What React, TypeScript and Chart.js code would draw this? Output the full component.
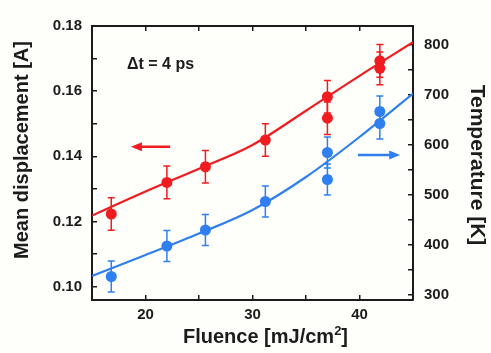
import React, { useEffect, useRef } from "react";
import { Chart, registerables } from "chart.js";

Chart.register(...registerables);

// ---- data ----
const fluence = [16.8, 22.0, 25.6, 31.2, 37.0, 37.0, 41.9, 41.9];
const displacement = [0.1223, 0.132, 0.1368, 0.145, 0.1583, 0.1517, 0.1693, 0.167];
const displacementErr = [0.005, 0.005, 0.005, 0.005, 0.005, 0.005, 0.005, 0.005];
const temperature = [337, 398, 430, 487, 531, 585, 667, 643];
const temperatureErr = [31, 31, 31, 31, 31, 31, 31, 31];

const fitFluence = [15, 20, 25, 30, 35, 40, 45];
const displacementFit = [0.1218, 0.1292, 0.1362, 0.1435, 0.154, 0.1647, 0.175];
const temperatureFit = [338, 380, 423, 470, 536, 616, 703];

const xTickValues = [20, 25, 30, 35, 40];
const xTickLabels = [20, 30, 40];
const yLeftTickValues = [0.1, 0.11, 0.12, 0.13, 0.14, 0.15, 0.16, 0.17, 0.18];
const yLeftTickLabels = [0.1, 0.12, 0.14, 0.16, 0.18];
const yRightTickValues = [300, 350, 400, 450, 500, 550, 600, 650, 700, 750, 800];
const yRightTickLabels = [300, 400, 500, 600, 700, 800];

const xTitle = "Fluence [mJ/cm";
const xTitleSup = "2";
const xTitleEnd = "]";
const yLeftTitle = "Mean displacement [A]";
const yRightTitle = "Temperature [K]";
const annotationText = "\u0394t = 4 ps";

const RED = "#f01c1f";
const BLUE = "#2f7ff0";
const INK = "#1c1c1c";
const FONT = '"Liberation Sans", Arial, sans-serif';

const near = (a: number, list: number[]) => list.some((t) => Math.abs(t - a) < 1e-6);

const errorBarPlugin = {
  id: "errorBars",
  beforeDatasetsDraw(chart: any) {
    const { ctx } = chart;
    chart.data.datasets.forEach((ds: any, i: number) => {
      if (!ds.errors) return;
      const meta = chart.getDatasetMeta(i);
      const yScale = chart.scales[ds.yAxisID];
      ctx.save();
      ctx.strokeStyle = ds.backgroundColor;
      ctx.lineWidth = 1.5;
      meta.data.forEach((pt: any, j: number) => {
        const v = ds.data[j].y;
        const e = ds.errors[j];
        const yTop = yScale.getPixelForValue(v + e);
        const yBot = yScale.getPixelForValue(v - e);
        const x = pt.x;
        ctx.beginPath();
        ctx.moveTo(x, yTop);
        ctx.lineTo(x, yBot);
        ctx.moveTo(x - 3.5, yTop);
        ctx.lineTo(x + 3.5, yTop);
        ctx.moveTo(x - 3.5, yBot);
        ctx.lineTo(x + 3.5, yBot);
        ctx.stroke();
      });
      ctx.restore();
    });
  },
};

function arrow(ctx: CanvasRenderingContext2D, x1: number, x2: number, y: number, color: string) {
  const dir = Math.sign(x2 - x1);
  ctx.save();
  ctx.strokeStyle = color;
  ctx.fillStyle = color;
  ctx.lineWidth = 2.5;
  ctx.beginPath();
  ctx.moveTo(x1, y);
  ctx.lineTo(x2 - dir * 8, y);
  ctx.stroke();
  ctx.beginPath();
  ctx.moveTo(x2, y);
  ctx.lineTo(x2 - dir * 11, y - 4.5);
  ctx.lineTo(x2 - dir * 11, y + 4.5);
  ctx.closePath();
  ctx.fill();
  ctx.restore();
}

const textPlugin = {
  id: "titlesAndNotes",
  afterDraw(chart: any) {
    const { ctx, chartArea, scales } = chart;
    const { x, y, y2 } = scales;
    ctx.save();
    ctx.fillStyle = INK;
    ctx.font = `bold 20px ${FONT}`;
    ctx.textBaseline = "alphabetic";
    ctx.textAlign = "center";

    ctx.save();
    ctx.translate(chartArea.left - 64.5, chartArea.top + 124);
    ctx.rotate(-Math.PI / 2);
    ctx.fillText(yLeftTitle, 0, 0);
    ctx.restore();

    ctx.save();
    ctx.font = `bold 21px ${FONT}`;
    ctx.translate(chartArea.right + 58, chartArea.top + 139);
    ctx.rotate(Math.PI / 2);
    ctx.fillText(yRightTitle, 0, 0);
    ctx.restore();

    ctx.textAlign = "left";
    const mainFont = `bold 20px ${FONT}`;
    const supFont = `bold 13px ${FONT}`;
    ctx.font = mainFont;
    const w1 = ctx.measureText(xTitle).width;
    const w3 = ctx.measureText(xTitleEnd).width;
    ctx.font = supFont;
    const w2 = ctx.measureText(xTitleSup).width;
    const total = w1 + w2 + w3;
    const cx = (chartArea.left + chartArea.right) / 2 + 13;
    const base = chartArea.bottom + 43;
    let sx = cx - total / 2;
    ctx.font = mainFont;
    ctx.fillText(xTitle, sx, base);
    sx += w1;
    ctx.font = supFont;
    ctx.fillText(xTitleSup, sx, base - 8);
    sx += w2;
    ctx.font = mainFont;
    ctx.fillText(xTitleEnd, sx, base);

    ctx.font = `bold 16px ${FONT}`;
    ctx.fillText(annotationText, x.getPixelForValue(18.27), y.getPixelForValue(0.1668));
    ctx.restore();

    arrow(ctx, x.getPixelForValue(22.3), x.getPixelForValue(18.64), y.getPixelForValue(0.1429), RED);
    arrow(ctx, x.getPixelForValue(39.86), x.getPixelForValue(43.8), y2.getPixelForValue(580), BLUE);
  },
};

export default function App() {
  const ref = useRef<HTMLCanvasElement>(null);

  useEffect(() => {
    document.body.style.margin = "0";
    const canvas = ref.current!;
    const tickFont = () => ({ family: FONT, size: 15, weight: "bold" as const });
    const mkGrid = () => ({ drawOnChartArea: false, tickLength: -5, color: INK, lineWidth: 1.5 });
    const mkBorder = () => ({ color: INK, width: 2 });
    const setTicks = (values: number[]) => (s: any) => {
      s.ticks = values.map((v) => ({ value: v }));
    };

    const chart = new Chart(canvas, {
      type: "scatter",
      data: {
        datasets: [
          {
            label: "Displacement fit",
            data: fitFluence.map((f, i) => ({ x: f, y: displacementFit[i] })),
            showLine: true,
            borderColor: RED,
            borderWidth: 2.2,
            pointRadius: 0,
            cubicInterpolationMode: "monotone",
            xAxisID: "x",
            yAxisID: "y",
          } as any,
          {
            label: "Temperature fit",
            data: fitFluence.map((f, i) => ({ x: f, y: temperatureFit[i] })),
            showLine: true,
            borderColor: BLUE,
            borderWidth: 2.2,
            pointRadius: 0,
            cubicInterpolationMode: "monotone",
            xAxisID: "x",
            yAxisID: "y2",
          } as any,
          {
            label: "Mean displacement",
            data: fluence.map((f, i) => ({ x: f, y: displacement[i] })),
            backgroundColor: RED,
            borderColor: RED,
            borderWidth: 0,
            pointRadius: 5.5,
            errors: displacementErr,
            xAxisID: "x",
            yAxisID: "y",
          } as any,
          {
            label: "Temperature",
            data: fluence.map((f, i) => ({ x: f, y: temperature[i] })),
            backgroundColor: BLUE,
            borderColor: BLUE,
            borderWidth: 0,
            pointRadius: 5.5,
            errors: temperatureErr,
            xAxisID: "x",
            yAxisID: "y2",
          } as any,
        ],
      },
      options: {
        responsive: false,
        animation: false,
        layout: { padding: 0 },
        plugins: { legend: { display: false }, tooltip: { enabled: false } },
        scales: {
          x: {
            type: "linear",
            position: "bottom",
            min: 15,
            max: 45,
            grid: mkGrid(),
            border: mkBorder(),
            afterBuildTicks: setTicks(xTickValues),
            ticks: {
              autoSkip: false,
              maxRotation: 0,
              padding: 11,
              color: INK,
              font: tickFont(),
              callback: (v: any) => (near(Number(v), xTickLabels) ? String(Math.round(Number(v))) : ""),
            },
            afterFit: (s: any) => {
              s.height = 53;
            },
          },
          xTop: {
            type: "linear",
            position: "top",
            min: 15,
            max: 45,
            grid: mkGrid(),
            border: mkBorder(),
            afterBuildTicks: setTicks(xTickValues),
            ticks: { display: false },
            afterFit: (s: any) => {
              s.height = 26;
            },
          },
          y: {
            type: "linear",
            position: "left",
            min: 0.0959,
            max: 0.18,
            grid: mkGrid(),
            border: mkBorder(),
            afterBuildTicks: setTicks(yLeftTickValues),
            ticks: {
              autoSkip: false,
              padding: 15,
              color: INK,
              font: tickFont(),
              callback: (v: any) => (near(Number(v), yLeftTickLabels) ? Number(v).toFixed(2) : ""),
            },
            afterFit: (s: any) => {
              s.width = 92;
            },
          },
          y2: {
            type: "linear",
            position: "right",
            min: 290,
            max: 838,
            grid: mkGrid(),
            border: mkBorder(),
            afterBuildTicks: setTicks(yRightTickValues),
            ticks: {
              autoSkip: false,
              padding: 16,
              color: INK,
              font: tickFont(),
              callback: (v: any) => (near(Number(v), yRightTickLabels) ? String(Math.round(Number(v))) : ""),
            },
            afterFit: (s: any) => {
              s.width = 78;
            },
          },
        },
      } as any,
      plugins: [errorBarPlugin, textPlugin],
    });
    return () => chart.destroy();
  }, []);

  return (
    <div style={{ position: "absolute", left: 0, top: 0, width: 491, height: 353, background: "#fefefb" }}>
      <canvas ref={ref} width={491} height={353} style={{ display: "block", width: 491, height: 353 }} />
    </div>
  );
}
